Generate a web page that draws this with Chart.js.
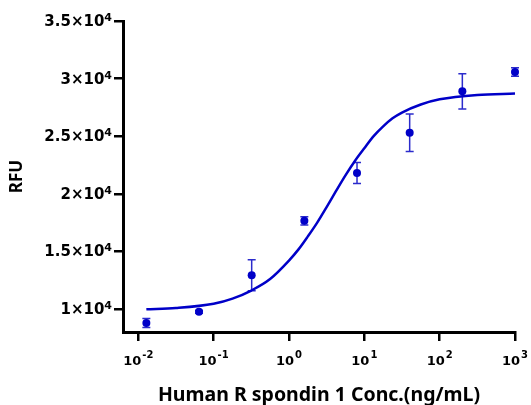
<!DOCTYPE html>
<html>
<head>
<meta charset="utf-8">
<script src="https://cdn.jsdelivr.net/npm/chart.js@4/dist/chart.umd.min.js"></script>
<style>
  html, body { margin: 0; padding: 0; background: #fff; }
</style>
</head>
<body>
<canvas id="doseChart" width="531" height="405"></canvas>
<script>
// measured points (mean +/- error)
const concentrations = [0.0128, 0.064, 0.32, 1.6, 8, 40, 200, 1000];
const rfuMeans = [8780, 9750, 12930, 17650, 21800, 25300, 28900, 30580];
const rfuErrors = [400, 120, 1350, 360, 910, 1620, 1530, 370];

// fitted curve
const fitConc = [0.0128, 0.0316, 0.1, 0.178, 0.316, 0.562, 1, 1.33, 1.78, 2.37, 3.16, 4.22,
                 5.62, 7.5, 10, 13.3, 17.8, 23.7, 31.6, 56.2, 100, 316, 1000];
const fitRfu = [9970, 10080, 10450, 10900, 11600, 12600, 14200, 15150, 16300, 17500, 18850, 20250,
                21600, 22850, 23950, 25000, 25850, 26550, 27050, 27750, 28200, 28580, 28700];

const xTickValues = [0.01, 0.1, 1, 10, 100, 1000];
const xTickBase = ['10', '10', '10', '10', '10', '10'];
const xTickExp = ['-2', '-1', '0', '1', '2', '3'];
const yTickValues = [10000, 15000, 20000, 25000, 30000, 35000];
const yTickBase = ['1×10', '1.5×10', '2×10', '2.5×10', '3×10', '3.5×10'];
const yTickExp = ['4', '4', '4', '4', '4', '4'];

const blue = '#0000c8';

const errorBars = {
    id: 'errorBars',
    beforeDatasetsDraw(chart) {
        const { ctx, scales: { x, y } } = chart;
        ctx.save();
        ctx.strokeStyle = '#2b2bcc';
        ctx.lineWidth = 1.5;
        concentrations.forEach((c, i) => {
            const px = x.getPixelForValue(c);
            const top = y.getPixelForValue(rfuMeans[i] + rfuErrors[i]);
            const bot = y.getPixelForValue(rfuMeans[i] - rfuErrors[i]);
            ctx.beginPath();
            ctx.moveTo(px, top); ctx.lineTo(px, bot);
            ctx.moveTo(px - 4, top); ctx.lineTo(px + 4, top);
            ctx.moveTo(px - 4, bot); ctx.lineTo(px + 4, bot);
            ctx.stroke();
        });
        ctx.restore();
    }
};

// tick labels with real superscript exponents
const powerLabels = {
    id: 'powerLabels',
    afterDraw(chart) {
        const { ctx, scales: { x, y } } = chart;
        const fam = '"DejaVu Sans"';
        ctx.save();
        ctx.fillStyle = '#000';
        ctx.textBaseline = 'alphabetic';
        ctx.textAlign = 'left';
        xTickValues.forEach((v, i) => {
            ctx.font = `bold 13px ${fam}`;
            const bw = ctx.measureText(xTickBase[i]).width;
            ctx.font = `bold 10px ${fam}`;
            const ew = ctx.measureText(xTickExp[i]).width;
            const left = x.getPixelForValue(v) - (bw + ew + 1) / 2;
            const base = x.top + 33;
            ctx.font = `bold 13px ${fam}`;
            ctx.fillText(xTickBase[i], left, base);
            ctx.font = `bold 10px ${fam}`;
            ctx.fillText(xTickExp[i], left + bw + 1, base - 7);
        });
        yTickValues.forEach((v, i) => {
            ctx.font = `bold 11px ${fam}`;
            const ew = ctx.measureText(yTickExp[i]).width;
            ctx.font = `bold 15px ${fam}`;
            const bw = ctx.measureText(yTickBase[i]).width;
            const right = y.right - 11;
            const base = y.getPixelForValue(v) + 5;
            ctx.fillText(yTickBase[i], right - ew - bw, base);
            ctx.font = `bold 11px ${fam}`;
            ctx.fillText(yTickExp[i], right - ew, base - 5);
        });
        ctx.restore();
    }
};

const ctx = document.getElementById('doseChart').getContext('2d');

new Chart(ctx, {
    type: 'scatter',
    data: {
        datasets: [{
            label: 'Fit',
            data: fitConc.map((c, i) => ({ x: c, y: fitRfu[i] })),
            showLine: true,
            borderColor: blue,
            borderWidth: 2.5,
            pointRadius: 0,
            cubicInterpolationMode: 'monotone',
            clip: false
        }, {
            label: 'RFU',
            data: concentrations.map((c, i) => ({ x: c, y: rfuMeans[i] })),
            backgroundColor: blue,
            borderColor: blue,
            pointRadius: 4,
            borderWidth: 0,
            clip: false
        }]
    },
    options: {
        responsive: false,
        animation: false,
        devicePixelRatio: 1,
        layout: { padding: { top: 21, right: 16, left: 0, bottom: 0 } },
        plugins: {
            legend: { display: false },
            tooltip: { enabled: false }
        },
        scales: {
            x: {
                type: 'logarithmic',
                min: 0.00627,
                max: 1000,
                afterBuildTicks: s => { s.ticks = xTickValues.map(v => ({ value: v })); },
                afterFit: s => { s.height = 73; },
                ticks: { display: false },
                grid: { drawOnChartArea: false, drawTicks: true, tickLength: 9, color: '#000', lineWidth: 2.5 },
                border: { color: '#000', width: 3 },
                title: {
                    display: true,
                    text: 'Human R spondin 1 Conc.(ng/mL)',
                    color: '#000',
                    font: { family: 'Noto Sans', weight: 'bold', size: 19.5, lineHeight: 1 },
                    padding: { top: 0, bottom: 0 }
                }
            },
            y: {
                min: 8000,
                max: 35000,
                afterBuildTicks: s => { s.ticks = yTickValues.map(v => ({ value: v })); },
                afterFit: s => { s.width = 123; },
                ticks: { display: false },
                grid: { drawOnChartArea: false, drawTicks: true, tickLength: 9, color: '#000', lineWidth: 2.5 },
                border: { color: '#000', width: 3 },
                title: {
                    display: true,
                    text: 'RFU',
                    color: '#000',
                    font: { family: 'Noto Sans', weight: 'bold', size: 17 },
                    padding: { top: 7, bottom: 0 }
                }
            }
        }
    },
    plugins: [errorBars, powerLabels]
});
</script>
</body>
</html>
